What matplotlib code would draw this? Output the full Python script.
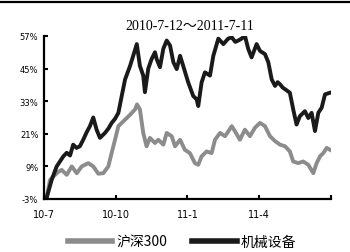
import numpy as np
import matplotlib.pyplot as plt
from matplotlib.lines import Line2D

# 时间轴: 从 10-7 起的月数
x_jx = [0.0, 0.11, 0.32, 0.53, 0.81, 0.95, 1.09, 1.22, 1.36, 1.5, 1.64, 1.78, 1.92, 2.06, 2.2, 2.34,
        2.55, 2.7, 2.83, 2.97, 3.11, 3.25, 3.39, 3.6, 3.73, 3.88, 4.01, 4.15, 4.22, 4.36, 4.5,
        4.64, 4.71, 4.85, 4.99, 5.13, 5.27, 5.41, 5.55, 5.69, 5.82, 6.03, 6.24, 6.38, 6.45,
        6.59, 6.73, 6.94, 7.08, 7.29, 7.5, 7.7, 7.85, 8.0, 8.12, 8.26, 8.4, 8.54, 8.68, 8.89,
        9.03, 9.24, 9.38, 9.52, 9.66, 9.77, 9.87, 9.98, 10.08, 10.28, 10.42, 10.56, 10.7,
        10.91, 11.05, 11.19, 11.33, 11.47, 11.61, 11.75, 11.96]
jixie = [-3.0, -2.6, 4.0, 9.0, 12.7, 14.0, 13.0, 17.0, 15.8, 16.4, 18.8, 21.5, 23.8, 27.0, 22.5, 19.5,
         21.3, 23.0, 25.0, 26.5, 28.7, 34.9, 41.0, 46.0, 49.7, 54.0, 46.0, 42.4, 36.3, 45.0, 48.5,
         51.0, 48.5, 45.5, 52.3, 55.3, 53.5, 47.3, 44.8, 49.7, 46.0, 39.9, 34.9, 33.7, 31.2,
         39.9, 43.6, 42.4, 49.7, 56.0, 54.0, 56.0, 56.5, 54.8, 55.3, 56.0, 57.1, 52.2, 49.1, 54.0,
         51.5, 50.3, 47.3, 41.0, 38.6, 40.0, 39.2, 38.0, 37.4, 36.1, 30.0, 24.4, 27.5,
         29.3, 26.8, 28.7, 22.0, 28.7, 30.6, 35.5, 36.1]

x_hs = [0.0, 0.11, 0.25, 0.39, 0.6, 0.74, 0.95, 1.16, 1.37, 1.58, 1.85, 2.06, 2.27, 2.48, 2.69,
        2.83, 2.97, 3.11, 3.32, 3.6, 3.81, 3.89, 4.01, 4.15, 4.29, 4.43, 4.64, 4.78, 4.99, 5.13,
        5.34, 5.48, 5.69, 5.89, 6.1, 6.31, 6.45, 6.59, 6.8, 7.01, 7.15, 7.36, 7.57, 7.85, 7.98,
        8.19, 8.4, 8.61, 8.82, 9.03, 9.24, 9.45, 9.66, 9.87, 10.08, 10.28, 10.42, 10.63, 10.84,
        11.05, 11.26, 11.4, 11.54, 11.68, 11.82, 11.96]
hs300 = [-3.0, -2.6, 4.0, 5.3, 7.0, 7.7, 5.9, 9.0, 6.5, 9.0, 10.2, 9.0, 6.3, 6.5, 9.0,
         14.0, 18.8, 23.8, 25.6, 28.0, 30.0, 31.8, 30.0, 21.3, 16.4, 19.5, 17.6, 18.8, 17.0, 21.3,
         20.1, 16.4, 18.8, 15.1, 13.9, 10.2, 9.6, 12.7, 14.5, 13.9, 18.8, 21.3, 20.1, 23.8, 22.0,
         18.8, 22.5, 20.1, 23.2, 25.0, 23.8, 20.1, 18.3, 17.0, 16.4, 14.5, 10.8, 10.2, 10.8,
         9.6, 6.5, 10.2, 12.7, 13.9, 15.8, 15.1]

yticks = [-3, 9, 21, 33, 45, 57]
xtick_pos = [0, 3, 6, 9, 12]
xtick_labels = ['10-7', '10-10', '11-1', '11-4', '']

fig = plt.figure(figsize=(3.5, 2.53), dpi=100)
ax = fig.add_axes([0.1257, 0.2095, 0.82, 0.6445])

ax.plot(x_hs, hs300, color='#8c8c8c', lw=2.8, label='沪深300', solid_joinstyle='round')
ax.plot(x_jx, jixie, color='#1a1a1a', lw=2.8, label='机械设备', solid_joinstyle='round')

ax.set_xlim(0, 12)
ax.set_ylim(-3, 57)
ax.set_yticks(yticks)
ax.set_yticklabels([f'{v}%' for v in yticks], fontsize=6)
ax.set_xticks(xtick_pos)
ax.set_xticklabels(xtick_labels, fontsize=7)
ax.tick_params(direction='in', length=3, width=1.5, pad=4)
ax.tick_params(axis='x', pad=7)
for s in ['top', 'right']:
    ax.spines[s].set_visible(False)
for s in ['left', 'bottom']:
    ax.spines[s].set_linewidth(1.6)

fig.text(0.543, 0.895, '2010-7-12～2011-7-11', ha='center', va='center', fontsize=10,
         family=['Liberation Serif', 'Noto Sans CJK SC'])

leg = fig.legend(loc='center', bbox_to_anchor=(0.52, 0.04), ncol=2, frameon=False,
                 prop={'family': ['Noto Sans CJK SC', 'DejaVu Sans'], 'size': 10},
                 handlelength=3.2, handletextpad=0.3, columnspacing=1.8)
for h in leg.get_lines():
    h.set_linewidth(4)

fig.add_artist(Line2D([0, 1], [0.988, 0.988], transform=fig.transFigure, color='black', lw=1.6))

fig.savefig('out.png', dpi=100)
